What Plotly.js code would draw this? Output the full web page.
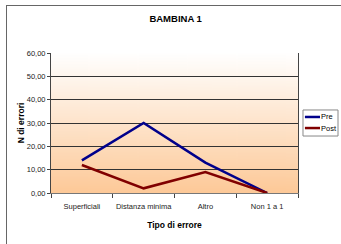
<!DOCTYPE html>
<html><head><meta charset="utf-8">
<script src="https://cdn.plot.ly/plotly-3.0.1.min.js"></script>
<style>
html,body{margin:0;padding:0;background:#fff;}
#wrap{position:relative;width:341px;height:244px;}
#frame{position:absolute;left:6px;top:5px;width:400px;height:300px;border-left:1px solid #666;border-top:1px solid #666;pointer-events:none;}
#chart{position:absolute;left:0;top:0;width:341px;height:244px;}
</style>
</head><body>
<div id="wrap"><div id="chart"></div><div id="frame"></div></div>
<script>
const categories = ["Superficiali", "Distanza minima", "Altro", "Non 1 a 1"];
const preValues = [14, 30, 13, 0];
const postValues = [12, 2, 9, 0];
const seriesNames = ["Pre", "Post"];
const yTickVals = [0, 10, 20, 30, 40, 50, 60];
const yTickText = ["0,00", "10,00", "20,00", "30,00", "40,00", "50,00", "60,00"];

const colors = ['#00008b', '#800000'];

// gradient background image
const cv = document.createElement('canvas');
cv.width = 10; cv.height = 200;
const ctx = cv.getContext('2d');
const g = ctx.createLinearGradient(0, 0, 0, 200);
g.addColorStop(0, '#ffffff');
g.addColorStop(1, '#fdc998');
ctx.fillStyle = g; ctx.fillRect(0, 0, 10, 200);
const bg = cv.toDataURL();

const FAM = 'Liberation Sans, Arial, sans-serif';
const font = {family: FAM, size: 7.5, color: '#222'};

const traces = [
  {x: categories, y: preValues, name: seriesNames[0], type: 'scatter', mode: 'lines',
   line: {color: colors[0], width: 2.5}},
  {x: categories, y: postValues, name: seriesNames[1], type: 'scatter', mode: 'lines',
   line: {color: colors[1], width: 2.5}}
];

// custom compact legend (paper coords)
const legShapes = [
  {type: 'rect', xref: 'paper', yref: 'paper', x0: 1.0202, x1: 1.162, y0: 0.407, y1: 0.593,
   line: {color: '#888', width: 1}, fillcolor: '#fff'},
  {type: 'line', xref: 'paper', yref: 'paper', x0: 1.028, x1: 1.089, y0: 0.543, y1: 0.543,
   line: {color: colors[0], width: 2.5}},
  {type: 'line', xref: 'paper', yref: 'paper', x0: 1.028, x1: 1.089, y0: 0.464, y1: 0.464,
   line: {color: colors[1], width: 2.5}}
];
const legAnn = [
  {xref: 'paper', yref: 'paper', x: 1.087, y: 0.543, text: seriesNames[0], showarrow: false,
   xanchor: 'left', yanchor: 'middle', font: {family: FAM, size: 7.5, color: '#000'}},
  {xref: 'paper', yref: 'paper', x: 1.087, y: 0.464, text: seriesNames[1], showarrow: false,
   xanchor: 'left', yanchor: 'middle', font: {family: FAM, size: 7.5, color: '#000'}}
];

const layout = {
  width: 341, height: 244,
  margin: {l: 51, r: 43, t: 53, b: 51, autoexpand: false},
  paper_bgcolor: '#ffffff',
  plot_bgcolor: 'rgba(0,0,0,0)',
  font: font,
  showlegend: false,
  title: {text: '<b>BAMBINA 1</b>', font: {family: FAM, size: 9.5, color: '#000'},
          x: 0.515, xanchor: 'center', y: 0.925, yanchor: 'middle'},
  xaxis: {type: 'category', range: [-0.5, 3.5], tickson: 'boundaries', ticks: 'outside', ticklen: 4, tickcolor: '#444',
          showline: true, linecolor: '#777', linewidth: 1, mirror: false, showgrid: false, tickangle: 0,
          tickfont: font, fixedrange: true, ticklabelstandoff: 6,
          title: {text: '<b>Tipo di errore</b>', font: {family: FAM, size: 8.5, color: '#000'}, standoff: 12}},
  yaxis: {range: [0, 60], tickvals: yTickVals, ticktext: yTickText, ticks: 'outside', ticklen: 3, tickcolor: '#444',
          showline: true, linecolor: '#444', linewidth: 1, mirror: true,
          showgrid: true, gridcolor: '#333', gridwidth: 1, zeroline: false,
          tickfont: font, fixedrange: true,
          title: {text: '<b>N di errori</b>', font: {family: FAM, size: 8.5, color: '#000'}, standoff: 0}},
  shapes: legShapes,
  annotations: legAnn,
  images: [{source: bg, xref: 'paper', yref: 'paper', x: 0, y: 1, sizex: 1, sizey: 1, sizing: 'stretch', layer: 'below', xanchor: 'left', yanchor: 'top'}]
};

Plotly.newPlot('chart', traces, layout, {displayModeBar: false, staticPlot: true});
</script>
</body></html>
